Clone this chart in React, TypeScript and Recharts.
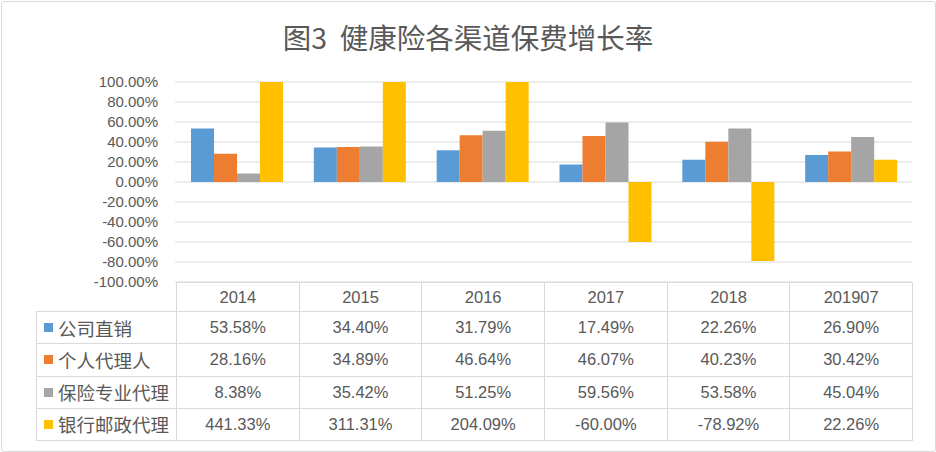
import React from 'react';
import { BarChart, Bar, XAxis, YAxis, CartesianGrid } from 'recharts';

const years = ['2014', '2015', '2016', '2017', '2018', '201907'];
const direct = [53.58, 34.4, 31.79, 17.49, 22.26, 26.9];
const agent = [28.16, 34.89, 46.64, 46.07, 40.23, 30.42];
const broker = [8.38, 35.42, 51.25, 59.56, 53.58, 45.04];
const bank = [441.33, 311.31, 204.09, -60.0, -78.92, 22.26];
const yTicks = [-100, -80, -60, -40, -20, 0, 20, 40, 60, 80, 100];

const series = [
  { key: 'direct', name: '公司直销', values: direct, color: '#5B9BD5' },
  { key: 'agent', name: '个人代理人', values: agent, color: '#ED7D31' },
  { key: 'broker', name: '保险专业代理', values: broker, color: '#A5A5A5' },
  { key: 'bank', name: '银行邮政代理', values: bank, color: '#FFC000' },
];

const data = years.map((y, i) => ({
  year: y,
  direct: direct[i],
  agent: agent[i],
  broker: broker[i],
  bank: bank[i],
}));

const W = 936;
const H = 452;
const PLOT_LEFT = 175;
const PLOT_RIGHT = 912;
const PLOT_TOP = 82;
const PLOT_BOTTOM = 282;
const TEXT = '#595959';
const LINE = '#d9d9d9';
const FONT = '"Liberation Sans", "Noto Sans CJK SC", sans-serif';

const pct = (v: number) => `${v.toFixed(2)}%`;

function DataTable() {
  const labelLeft = 36;
  const colW = (PLOT_RIGHT - 176) / years.length;
  const headH = 29;
  const rowH = 32.25;
  const cell: React.CSSProperties = {
    position: 'absolute',
    boxSizing: 'border-box',
    border: `1px solid ${LINE}`,
    display: 'flex',
    alignItems: 'center',
    justifyContent: 'center',
    fontSize: 16.5,
    color: TEXT,
  };
  return (
    <div style={{ position: 'absolute', left: 0, top: 0, fontFamily: FONT }}>
      {years.map((y, i) => (
        <div
          key={y}
          style={{ ...cell, left: 176 + i * colW, top: PLOT_BOTTOM, width: colW + 1, height: headH + 1 }}
        >
          {y}
        </div>
      ))}
      {series.map((s, r) => {
        const top = PLOT_BOTTOM + headH + r * rowH;
        return (
          <React.Fragment key={s.key}>
            <div
              style={{
                ...cell,
                left: labelLeft,
                top,
                width: 176 - labelLeft + 1,
                height: rowH + 1,
                justifyContent: 'flex-start',
                paddingLeft: 7,
                fontSize: 18.5,
              }}
            >
              <span style={{ width: 9, height: 9, background: s.color, marginRight: 5, flex: 'none' }} />
              {s.name}
            </div>
            {s.values.map((v, i) => (
              <div
                key={i}
                style={{ ...cell, left: 176 + i * colW, top, width: colW + 1, height: rowH + 1 }}
              >
                {pct(v)}
              </div>
            ))}
          </React.Fragment>
        );
      })}
    </div>
  );
}

export default function App() {
  return (
    <div style={{ position: 'absolute', left: 0, top: 0, width: W, height: H, background: '#fff', fontFamily: FONT }}>
      <div
        style={{
          position: 'absolute',
          left: 1,
          top: 1,
          width: W - 3,
          height: H - 3,
          border: `1px solid ${LINE}`,
          borderRadius: 3,
        }}
      />
      <div
        style={{
          position: 'absolute',
          left: 0,
          width: W,
          top: 18,
          textAlign: 'center',
          fontSize: 28.5,
          lineHeight: '38px',
          color: TEXT,
          fontFamily: '"Noto Sans CJK SC", sans-serif',
        }}
      >
        图3&nbsp;&nbsp;健康险各渠道保费增长率
      </div>
      <div style={{ position: 'absolute', left: 0, top: 0 }}>
        <BarChart
          width={W}
          height={H}
          data={data}
          margin={{ top: PLOT_TOP, right: W - PLOT_RIGHT, bottom: H - PLOT_BOTTOM, left: 0 }}
          barCategoryGap={16}
          barGap={0}
        >
          <CartesianGrid vertical={false} stroke={LINE} strokeWidth={1} />
          <XAxis dataKey="year" hide />
          <YAxis
            width={PLOT_LEFT}
            domain={[-100, 100]}
            ticks={yTicks}
            allowDataOverflow
            axisLine={false}
            tickLine={false}
            tickSize={0}
            tickMargin={17}
            tickFormatter={pct}
            tick={{ fill: TEXT, fontSize: 15, fontFamily: FONT }}
            interval={0}
          />
          {series.map((s) => (
            <Bar key={s.key} dataKey={s.key} name={s.name} fill={s.color} isAnimationActive={false} />
          ))}
        </BarChart>
      </div>
      <DataTable />
    </div>
  );
}
